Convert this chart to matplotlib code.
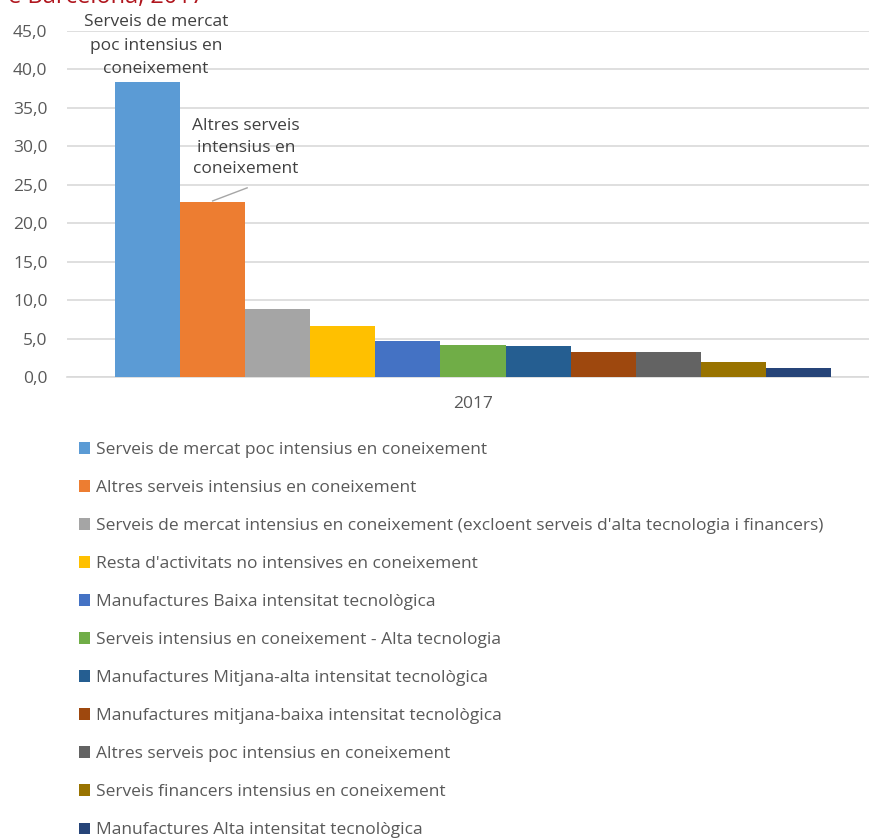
import matplotlib
matplotlib.use("Agg")
import matplotlib.pyplot as plt
from matplotlib.patches import Patch

plt.rcParams['font.family'] = ['Open Sans', 'DejaVu Sans']

# data (percent of employment, 2017)
categories = [
    "Serveis de mercat poc intensius en coneixement",
    "Altres serveis intensius en coneixement",
    "Serveis de mercat intensius en coneixement (excloent serveis d'alta tecnologia i financers)",
    "Resta d'activitats no intensives en coneixement",
    "Manufactures Baixa intensitat tecnològica",
    "Serveis intensius en coneixement - Alta tecnologia",
    "Manufactures Mitjana-alta intensitat tecnològica",
    "Manufactures mitjana-baixa intensitat tecnològica",
    "Altres serveis poc intensius en coneixement",
    "Serveis financers intensius en coneixement",
    "Manufactures Alta intensitat tecnològica",
]
values = [38.4, 22.8, 8.8, 6.6, 4.7, 4.2, 4.0, 3.3, 3.3, 2.0, 1.2]
colors = ['#5B9BD5', '#ED7D31', '#A5A5A5', '#FFC000', '#4472C4', '#70AD47',
          '#255E91', '#9E480E', '#636363', '#997300', '#264478']
year_label = "2017"
y_ticks = [0, 5, 10, 15, 20, 25, 30, 35, 40, 45]

W, H = 870, 838
fig = plt.figure(figsize=(W / 100, H / 100), dpi=100)

# axes placed in pixel terms: left 67, right 870, y=0 at 377, y=45 at 31
ax = fig.add_axes([67 / W, (H - 377) / H, (W - 67) / W, (377 - 31) / H])

x = list(range(len(values)))
ax.bar(x, values, width=1.0, color=colors, zorder=3)

# bars span px 115..831 -> one bar = 65.1 px
bar_px = (831 - 115) / len(values)
first_center = 115 + bar_px / 2
ax.set_xlim((67 - first_center) / bar_px, (870 - first_center) / bar_px)
ax.set_ylim(0, 45)

ax.set_yticks(y_ticks)
ax.set_yticklabels([f"{t:.1f}".replace('.', ',') for t in y_ticks])
ax.set_xticks([(len(values) - 1) / 2])
ax.set_xticklabels([year_label])
ax.tick_params(axis='both', length=0, labelsize=12.5, colors='#595959')
ax.tick_params(axis='x', pad=14)
ax.tick_params(axis='y', pad=14)

ax.yaxis.grid(True, color='#D9D9D9', linewidth=1.2, zorder=0)
for s in ['top', 'right', 'left']:
    ax.spines[s].set_visible(False)
ax.spines['bottom'].set_color('#D9D9D9')
ax.spines['bottom'].set_linewidth(1.2)

# data labels on the two largest bars
ax.text(0.13, 43.1, "Serveis de mercat\npoc intensius en\nconeixement", ha='center', va='center',
        fontsize=12.5, color='#404040', linespacing=1.6)
ax.text(1.51, 29.8, "Altres serveis\nintensius en\nconeixement", ha='center', va='center',
        fontsize=12.5, color='#404040', linespacing=1.45)
ax.plot([1.0, 1.53], [22.9, 24.6], color='#A6A6A6', linewidth=1, zorder=4)

# title, cut off by the top of the image
fig.text(205 / W, 1 - 3 / H, "e Barcelona, 2017", ha='right', va='baseline',
         fontsize=17, color='#B0161E')

handles = [Patch(facecolor=c, edgecolor='none') for c in colors]
fig.legend(handles, categories, loc='upper left', bbox_to_anchor=(72 / W, 1 - 435 / H),
           frameon=False, fontsize=12.5, labelcolor='#595959', handlelength=0.65,
           handleheight=0.65, handletextpad=0.35, labelspacing=1.27, borderaxespad=0)

fig.savefig("out.png", dpi=100)
